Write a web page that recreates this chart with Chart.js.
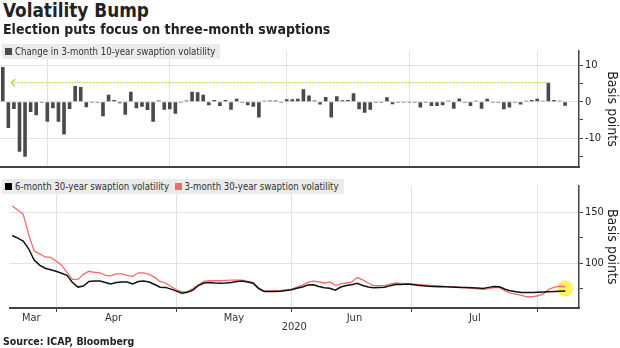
<!DOCTYPE html>
<html>
<head>
<meta charset="utf-8">
<script src="https://cdn.jsdelivr.net/npm/chart.js@4.4.1/dist/chart.umd.min.js"></script>
<style>
  body { margin: 0; width: 620px; height: 348px; overflow: hidden; position: relative; background: #fff;
         font-family: "DejaVu Sans Condensed", "DejaVu Sans", sans-serif; color: #222; }
  canvas { position: absolute; left: 0; }
  #topChart { top: 42px; }
  #bottomChart { top: 176px; }
  .txt { position: absolute; left: 3px; white-space: nowrap; z-index: 2; }
  #title { top: 0px; font-size: 18.8px; font-weight: bold; }
  #subtitle { top: 21px; font-size: 14px; font-weight: bold; }
  #source { top: 335px; font-size: 10.5px; font-weight: bold; }
  .legend { position: absolute; left: 2px; background: #ebebeb; font-size: 9.6px; color: #333;
            padding: 2px 5px 2px 3px; white-space: nowrap; z-index: 2; }
  .legend i { display: inline-block; width: 7px; height: 7px; margin-right: 3px; vertical-align: 0px; }
  #legendTop { top: 44px; }
  #legendBottom { top: 179px; }
</style>
</head>
<body>
<div class="txt" id="title">Volatility Bump</div>
<div class="txt" id="subtitle">Election puts focus on three-month swaptions</div>
<div class="legend" id="legendTop"><i style="background:#4a4a4a"></i>Change in 3-month 10-year swaption volatility</div>
<div class="legend" id="legendBottom"><i style="background:#000"></i>6-month 30-year swaption volatility&nbsp;&nbsp;<i style="background:#f26b6b"></i>3-month 30-year swaption volatility</div>
<div class="txt" id="source">Source: ICAP, Bloomberg</div>
<canvas id="topChart" width="620" height="134"></canvas>
<canvas id="bottomChart" width="620" height="172"></canvas>
<script>
// business days from Mar 20 2020; the axis runs a couple of days past the last value
const firstDay = '2020-03-20';
const slotCount = 104;

// daily change in 3-month 10-year swaption vol (bp)
const change3m10y = [
  9.5, -7.2, -2, -13.7, -15.1, -2.8, -3.7, -0.3, -5.5, -1.8,
  -5.5, -9, -2, 4.3, 4, -1.5, -0.3, -0.3, -4, 1.9,
  0.5, -0.4, -3.6, 2.7, -1.8, -1.4, -2.3, -5.5, 0.3, -2.2,
  -2.1, -3.3, -0.3, 0.3, 2.7, 2.6, 1.9, -1, 0.5, -1.2,
  0.5, -2.2, 0.8, -0.2, -1, -1.4, -4.3, 0.2, 0.3, 0.3,
  -0.3, 0.7, 0.7, 0.8, 3.4, 1.7, 0.3, -0.8, 1.3, -4.3,
  1.5, 0.4, 0.5, 2.3, -2.1, -3, -2.2, -0.2, -0.2, 1.2,
  -0.7, -0.3, -0.2, -0.3, -0.3, -1.6, -0.2, -1.2, -1.2, -1,
  0.2, -1.9, 0.9, -0.2, -1.2, 0.2, -1.9, 0.8, -0.2, -0.2,
  -2.1, -1.6, -0.2, -0.8, 0.2, 0.5, 0.8, 0.2, 5.2, 0.5,
  0.1, -1.1
];

// 6-month 30-year swaption vol (bp)
const vol6m30y = [
  127, 124.5, 121.5, 114, 103, 98, 95, 93.5, 92, 90,
  88, 81, 76.5, 77.5, 82, 82.4, 82.4, 81, 79.5, 81,
  81.5, 81.5, 79.5, 82, 82.4, 81.5, 79, 76.4, 76.2, 74.5,
  72.5, 70.5, 71.5, 73.5, 78, 80.5, 80.9, 80.5, 80.3, 80.5,
  80.9, 82, 82.5, 81.5, 80.3, 75, 72.2, 72.1, 72.1, 72.5,
  73.2, 73.8, 75.3, 76.5, 78.5, 78.8, 77, 75.8, 75.3, 73.5,
  76.5, 78, 78.8, 80.3, 78, 76.5, 75.8, 76, 76.3, 77.9,
  79, 78.9, 79.6, 79, 78.3, 77.8, 77.3, 77, 76.8, 76.7,
  76.5, 76.4, 76.2, 76, 75.9, 75.5, 75.2, 76.2, 77, 76.8,
  74.4, 72.8, 72, 71.3, 71.2, 71.2, 71.5, 71.7, 71.9, 72.1,
  72.4, 72.7
];

// 3-month 30-year swaption vol (bp)
const vol3m30y = [
  156, 152, 148, 128, 112, 109, 106, 105.5, 102, 98,
  91, 84, 84, 89, 92, 91, 90.5, 88, 87.5, 89.4,
  89.4, 88, 87, 90.5, 90.5, 89, 86, 82, 80.5, 77,
  73.8, 71.8, 72, 75, 78.8, 82, 82.7, 82.7, 82.7, 83,
  83.3, 83.3, 83.3, 82, 81, 75.8, 72.7, 72.8, 73, 73.3,
  73.8, 74.5, 76.5, 78.5, 81, 82.4, 81.5, 80.5, 81.5, 78.2,
  79.6, 80.5, 81.5, 85.8, 83.5, 80.5, 78, 77.9, 77.9, 79.5,
  80.5, 80.2, 79.8, 79.5, 79, 78.7, 78.3, 77.9, 77.6, 77.2,
  77, 76.7, 76.2, 75.7, 75.3, 74.8, 74.2, 75, 76, 76,
  73, 70.5, 69.5, 68.4, 67, 67, 68, 70, 74.2, 76.4,
  77.3, 76.8
];

// month labels and the slot they sit over
const monthNames = ['Mar', 'Apr', 'May', 'Jun', 'Jul'];
const monthLabelSlot = [4, 19, 41, 63, 85];

// annotation: dotted arrow back from the latest jump, and end-of-line marker
const arrowLevel = 5.2, arrowFromSlot = 98, arrowToSlot = 1.5;
const endMarkSlot = 101, endMarkValue = 75;

const days = [];
for (let d = new Date(firstDay + 'T00:00:00Z'); days.length < slotCount; d.setUTCDate(d.getUTCDate() + 1)) {
  const wd = d.getUTCDay();
  if (wd !== 0 && wd !== 6) days.push(d.toISOString().slice(0, 10));
}
const monthStarts = days.map((d, i) => i > 0 && d.slice(5, 7) !== days[i - 1].slice(5, 7) ? i : -1).filter(i => i >= 0);

Chart.defaults.font.family = '"DejaVu Sans Condensed", "DejaVu Sans", sans-serif';
Chart.defaults.color = '#222';
Chart.defaults.animation = false;

const gridGray = '#e2e2e2';
const axisDark = '#444';

const xGridColor = (ctx) => monthStarts.includes(ctx.index) ? gridGray : 'transparent';

const rightAxis = (min, max, step, major) => ({
  position: 'right',
  min, max,
  afterFit: (scale) => { scale.width = 41; },
  border: { color: axisDark, width: 1.5 },
  grid: {
    color: (ctx) => ctx.tick && ctx.tick.value % major === 0 ? gridGray : 'transparent',
    tickColor: (ctx) => ctx.tick && ctx.tick.value % step === 0 ? axisDark : 'transparent',
    tickLength: 4,
  },
  ticks: {
    stepSize: step,
    autoSkip: false,
    padding: 2,
    font: { size: 11 },
    callback: (v) => v % major === 0 ? v : '',
  },
  title: { display: true, text: 'Basis points', font: { size: 14 }, padding: { top: 0, bottom: 3 } },
});

const arrowPlugin = {
  id: 'arrowBack',
  afterDatasetsDraw(chart) {
    const { ctx, scales: { x, y } } = chart;
    const yy = y.getPixelForValue(arrowLevel);
    const x1 = x.getPixelForValue(arrowFromSlot);
    const x0 = x.getPixelForValue(arrowToSlot);
    ctx.save();
    ctx.strokeStyle = '#a3d649';
    ctx.lineWidth = 1.2;
    ctx.setLineDash([1.2, 1.2]);
    ctx.beginPath();
    ctx.moveTo(x1, yy);
    ctx.lineTo(x0, yy);
    ctx.stroke();
    ctx.setLineDash([]);
    ctx.beginPath();
    ctx.moveTo(x0 + 4, yy - 3.5);
    ctx.lineTo(x0, yy);
    ctx.lineTo(x0 + 4, yy + 3.5);
    ctx.stroke();
    ctx.restore();
  },
};

new Chart(document.getElementById('topChart'), {
  type: 'bar',
  data: {
    labels: days,
    datasets: [{
      label: 'Change in 3-month 10-year swaption volatility',
      data: change3m10y,
      backgroundColor: '#4a4a4a',
      barPercentage: 0.65,
      categoryPercentage: 1,
      minBarLength: 1,
    }],
  },
  options: {
    responsive: false,
    layout: { padding: { top: 2, left: 0, right: 0, bottom: 0 } },
    plugins: { legend: { display: false }, tooltip: { enabled: false } },
    scales: {
      x: {
        offset: true,
        afterFit: (scale) => { scale.height = 1; },
        border: { color: axisDark, width: 2 },
        grid: { offset: false, color: xGridColor, drawTicks: false },
        ticks: { display: false },
      },
      y: rightAxis(-18, 14, 5, 10),
    },
  },
  plugins: [arrowPlugin],
});

new Chart(document.getElementById('bottomChart'), {
  type: 'line',
  data: {
    labels: days,
    datasets: [
      {
        label: '6-month 30-year swaption volatility',
        data: vol6m30y,
        borderColor: '#111',
        borderWidth: 1.5,
        pointRadius: 0,
        tension: 0,
      },
      {
        label: '3-month 30-year swaption volatility',
        data: vol3m30y,
        borderColor: '#f26b6b',
        borderWidth: 1.3,
        pointRadius: 0,
        tension: 0,
      },
      {
        label: 'latest',
        data: [{ x: days[endMarkSlot], y: endMarkValue }],
        showLine: false,
        pointRadius: 7.5,
        pointBackgroundColor: 'rgba(255, 234, 0, 0.6)',
        pointBorderColor: 'rgba(255, 234, 0, 0.3)',
        pointBorderWidth: 2,
      },
    ],
  },
  options: {
    responsive: false,
    layout: { padding: { top: 1, left: 0, right: 0, bottom: 0 } },
    plugins: { legend: { display: false }, tooltip: { enabled: false } },
    scales: {
      x: {
        offset: true,
        afterFit: (scale) => { scale.height = 40; },
        border: { color: axisDark, width: 2 },
        grid: { offset: false, color: xGridColor, tickColor: (ctx) => monthStarts.includes(ctx.index) ? axisDark : 'transparent', tickLength: 4 },
        ticks: {
          autoSkip: false,
          maxRotation: 0,
          minRotation: 0,
          padding: 0,
          labelOffset: -2.8,
          font: { size: 11 },
          color: '#333',
          callback: (v, i) => {
            const k = monthLabelSlot.indexOf(i);
            return k >= 0 ? monthNames[k] : '';
          },
        },
        title: { display: true, text: '2020', font: { size: 11 }, color: '#333', padding: { top: 0, bottom: 14 } },
      },
      y: rightAxis(56, 176, 25, 50),
    },
  },
});
</script>
</body>
</html>
